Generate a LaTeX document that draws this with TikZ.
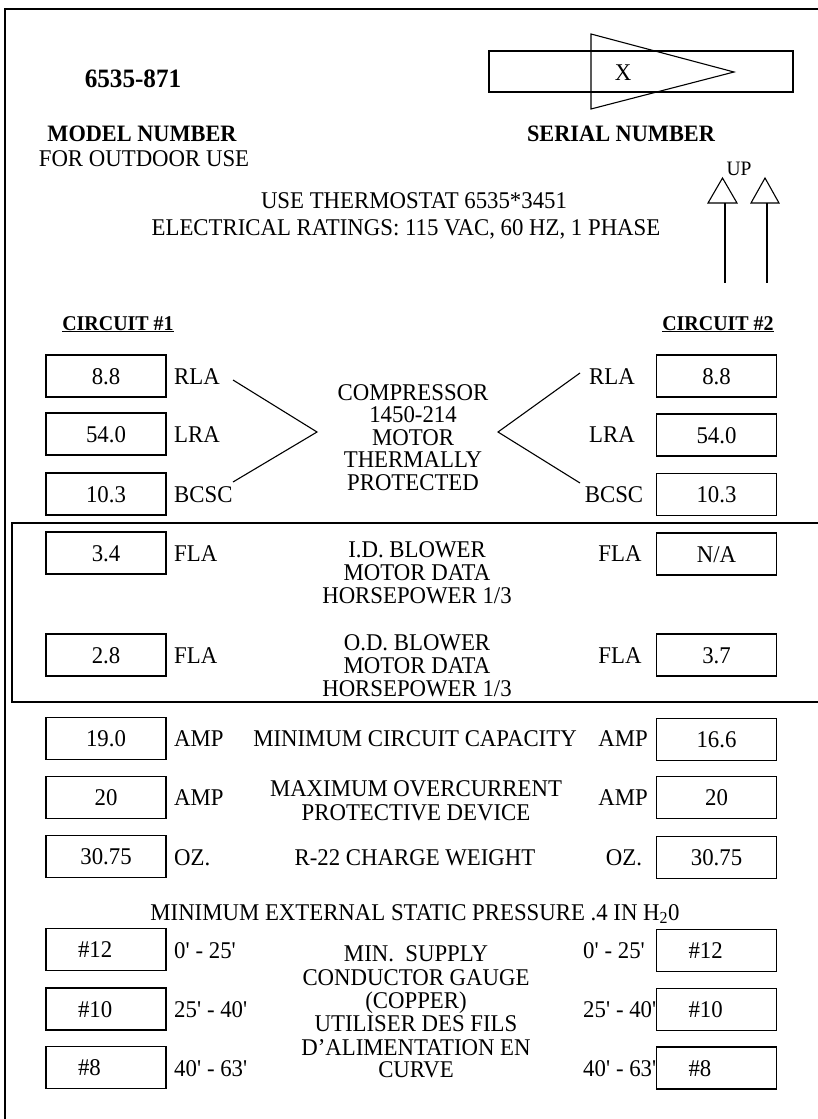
\documentclass[tikz,border=0pt]{standalone}
\usepackage{fontspec}
\setmainfont{Liberation Serif}[FakeStretch=0.95]
\newcommand\tfs{\fontsize{24}{25}\selectfont}
\newcommand\hfs{\fontsize{23.5}{25}\selectfont\bfseries}
\newcommand\cfs{\fontsize{21}{23}\selectfont\bfseries}
\newcommand\ft{\textquotesingle}
\begin{document}
\begin{tikzpicture}[x=1pt,y=-1pt,
  vb/.style={draw, line width=1.4pt, minimum width=120pt, minimum height=42pt, inner sep=0pt, text height=16pt, text depth=0pt, font=\tfs},
  vbl/.style={vb, inner xsep=32pt, text width=56pt, align=left},
  t/.style={anchor=base, inner sep=0pt, font=\tfs},
  tw/.style={anchor=base west, inner sep=0pt, font=\tfs},
  h/.style={anchor=base, inner sep=0pt, font=\hfs},
  ln/.style={line width=1.1pt},
  frame/.style={line width=1.3pt}]
\useasboundingbox (0,0) rectangle (818,1119);
% outer frame
\coordinate (f1) at (5,1125);
\coordinate (f2) at (5,9);
\coordinate (f3) at (830,9);
\draw[frame] (f1) -- (f2) -- (f3);
% top texts
\node[anchor=base, inner sep=0pt, font=\fontsize{26.5}{28}\selectfont\bfseries] (model) at (133,87) {6535-871};
\node[h] (modellbl) at (142,141) {MODEL NUMBER};
\node[t] (outdoor) at (144,166) {FOR OUTDOOR USE};
\node[h] (seriallbl) at (621,141) {SERIAL NUMBER};
% serial box
\node[draw, line width=1.4pt, minimum width=304pt, minimum height=41pt, inner sep=0pt] (serial) at (641,71.5) {};
\coordinate (tri1) at (591,34);
\coordinate (tri2) at (734,72);
\coordinate (tri3) at (591,109);
\draw[ln] (tri1) -- (tri2) -- (tri3) -- cycle;
\node[t] (xmark) at (623,80) {X};
% up arrows
\node[anchor=base, inner sep=0pt, font=\fontsize{20.5}{22}\selectfont] (up) at (739,175) {UP};
\coordinate (a1l) at (708,203); \coordinate (a1t) at (722.5,178); \coordinate (a1r) at (737,203);
\coordinate (a1s) at (725,203); \coordinate (a1e) at (725,283);
\draw[ln] (a1l) -- (a1t) -- (a1r) -- cycle;
\draw[ln] (a1s) -- (a1e);
\coordinate (a2l) at (751,203); \coordinate (a2t) at (765,178); \coordinate (a2r) at (779,203);
\coordinate (a2s) at (767,203); \coordinate (a2e) at (767,283);
\draw[ln] (a2l) -- (a2t) -- (a2r) -- cycle;
\draw[ln] (a2s) -- (a2e);
% thermostat
\node[t] (thermo) at (414,208) {USE THERMOSTAT 6535*3451};
\node[t] (elec) at (406,235) {ELECTRICAL RATINGS: 115 VAC, 60 HZ, 1 PHASE};
% circuit headers
\node[anchor=base, inner sep=0pt, font=\cfs] (c1) at (118,330) {\underline{CIRCUIT \#1}};
\node[anchor=base, inner sep=0pt, font=\cfs] (c2) at (718,330) {\underline{CIRCUIT \#2}};
% compressor rows
\node[vb] (l1) at (106,376) {8.8};
\node[vb] (l2) at (106,434) {54.0};
\node[vb] (l3) at (106,494) {10.3};
\node[vb] (r1) at (716.5,376) {8.8};
\node[vb] (r2) at (716.5,435) {54.0};
\node[vb] (r3) at (716.5,494.5) {10.3};
\node[tw] (ll1) at (174,384) {RLA};
\node[tw] (ll2) at (174,442) {LRA};
\node[tw] (ll3) at (174,502) {BCSC};
\node[t] (rl1) at (612,384) {RLA};
\node[t] (rl2) at (612,442) {LRA};
\node[t] (rl3) at (614,502) {BCSC};
\coordinate (cl1) at (233,380); \coordinate (cl2) at (317,432); \coordinate (cl3) at (233,482);
\coordinate (cr1) at (580,373); \coordinate (cr2) at (498,432); \coordinate (cr3) at (580,483);
\draw[ln] (cl1) -- (cl2) -- (cl3);
\draw[ln] (cr1) -- (cr2) -- (cr3);
\node[t] (comp1) at (413,400) {COMPRESSOR};
\node[t] (comp2) at (413,422.5) {1450-214};
\node[t] (comp3) at (413,445) {MOTOR};
\node[t] (comp4) at (413,467.5) {THERMALLY};
\node[t] (comp5) at (413,490) {PROTECTED};
% blower enclosure
\coordinate (b1) at (12,523); \coordinate (b2) at (840,702);
\draw[frame] (b1) rectangle (b2);
\node[vb] (l4) at (106,553) {3.4};
\node[vb] (r4) at (716.5,554) {N/A};
\node[tw] (ll4) at (174,561) {FLA};
\node[t] (rl4) at (620,561) {FLA};
\node[t] (id1) at (417,557) {I.D. BLOWER};
\node[t] (id2) at (417,580) {MOTOR DATA};
\node[t] (id3) at (417,603) {HORSEPOWER 1/3};
\node[vb] (l5) at (106,655) {2.8};
\node[vb] (r5) at (716.5,655) {3.7};
\node[tw] (ll5) at (174,663) {FLA};
\node[t] (rl5) at (620,663) {FLA};
\node[t] (od1) at (417,650) {O.D. BLOWER};
\node[t] (od2) at (417,673) {MOTOR DATA};
\node[t] (od3) at (417,696) {HORSEPOWER 1/3};
% amp rows
\node[vb] (l6) at (106,738.5) {19.0};
\node[vb] (r6) at (716.5,739.5) {16.6};
\node[tw] (ll6) at (174,746) {AMP};
\node[t] (rl6) at (623,746) {AMP};
\node[t] (mcc) at (415,746) {MINIMUM CIRCUIT CAPACITY};
\node[vb] (l7) at (106,797.5) {20};
\node[vb] (r7) at (716.5,797.5) {20};
\node[tw] (ll7) at (174,805) {AMP};
\node[t] (rl7) at (623,805) {AMP};
\node[t] (moc1) at (416,796) {MAXIMUM OVERCURRENT};
\node[t] (moc2) at (416,820) {PROTECTIVE DEVICE};
\node[vb] (l8) at (106,856.5) {30.75};
\node[vb] (r8) at (716.5,857.5) {30.75};
\node[tw] (ll8) at (174,865) {OZ.};
\node[t] (rl8) at (624,865) {OZ.};
\node[t] (r22) at (415,865) {R-22 CHARGE WEIGHT};
\node[t] (mesp) at (415,920) {MINIMUM EXTERNAL STATIC PRESSURE .4 IN H\textsubscript{2}0};
% gauge rows
\node[vbl] (l9) at (106,949.5) {\#12};
\node[vbl] (l10) at (106,1009) {\#10};
\node[vbl] (l11) at (106,1067.5) {\#8};
\node[vbl] (r9) at (716.5,950.5) {\#12};
\node[vbl] (r10) at (716.5,1009.5) {\#10};
\node[vbl] (r11) at (716.5,1068) {\#8};
\node[tw] (ll9) at (174,958) {0\ft{} - 25\ft};
\node[tw] (ll10) at (174,1017) {25\ft{} - 40\ft};
\node[tw] (ll11) at (174,1076) {40\ft{} - 63\ft};
\node[tw] (rl9) at (583,958) {0\ft{} - 25\ft};
\node[tw] (rl10) at (583,1017) {25\ft{} - 40\ft};
\node[tw] (rl11) at (583,1076) {40\ft{} - 63\ft};
\node[t] (g1) at (416,961) {MIN.\ \ SUPPLY};
\node[t] (g2) at (416,985) {CONDUCTOR GAUGE};
\node[t] (g3) at (416,1008) {(COPPER)};
\node[t] (g4) at (416,1031) {UTILISER DES FILS};
\node[t] (g5) at (416,1055) {D’ALIMENTATION EN};
\node[t] (g6) at (416,1077) {CURVE};
\end{tikzpicture}
\end{document}
